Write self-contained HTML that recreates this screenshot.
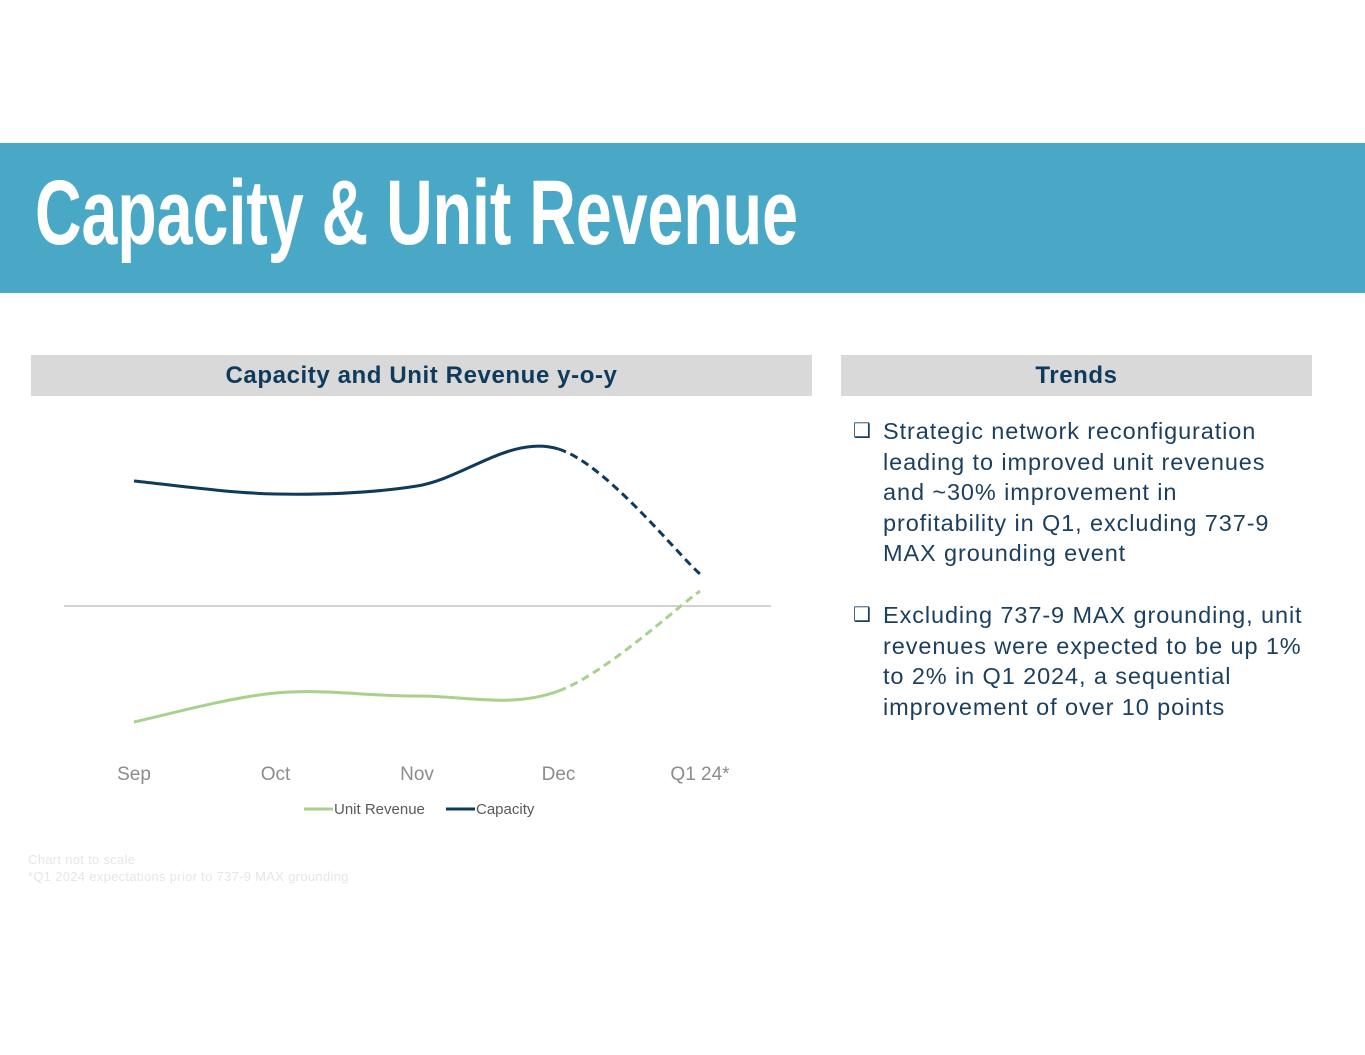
<!DOCTYPE html>
<html><head><meta charset="utf-8"><style>
body{margin:0;width:1365px;height:1055px;background:#fff;position:relative;overflow:hidden;font-family:"Liberation Sans",sans-serif}
.band{position:absolute;left:0;top:143px;width:1365px;height:150px;background:#49A8C6}
.ph{position:absolute;top:355px;height:41px;background:#D9D9D9;color:#0E3A5C;font-weight:bold;font-size:24px;letter-spacing:0.6px;line-height:41px;text-align:center}
.bul{position:absolute;left:853px;width:490px;color:#1B3F5E;font-size:23.5px;letter-spacing:0.9px;line-height:30.6px;white-space:nowrap}
.bul .b{position:absolute;left:0;top:0;font-size:20px;letter-spacing:0}
.bul .t{margin-left:30px}
.foot{position:absolute;left:28px;top:851px;color:#E6E6E6;font-size:13px;letter-spacing:0.3px;line-height:17px}
</style></head><body>
<div class="band"></div>
<svg style="position:absolute;left:0;top:143px" width="1365" height="150">
<text x="35" y="101" textLength="763" lengthAdjust="spacingAndGlyphs" font-family="Liberation Sans Narrow, Liberation Sans, sans-serif" font-weight="bold" font-size="92" fill="#fff">Capacity &amp; Unit Revenue</text></svg>
<div class="ph" style="left:31px;width:781px">Capacity and Unit Revenue y-o-y</div>
<div class="ph" style="left:841px;width:471px">Trends</div>
<div class="bul" style="top:416px"><span class="b">❑</span><div class="t">Strategic network reconfiguration<br>leading to improved unit revenues<br>and ~30% improvement in<br>profitability in Q1, excluding 737-9<br>MAX grounding event</div></div>
<div class="bul" style="top:600px"><span class="b">❑</span><div class="t">Excluding 737-9 MAX grounding, unit<br>revenues were expected to be up 1%<br>to 2% in Q1 2024, a sequential<br>improvement of over 10 points</div></div>
<div class="foot">Chart not to scale<br>*Q1 2024 expectations prior to 737-9 MAX grounding</div>
<svg id="chart" style="position:absolute;left:0;top:0" width="1365" height="1055"></svg>
<script>
const categories=["Sep","Oct","Nov","Dec","Q1 24*"];
const capacity=[12.5,11.2,12.0,15.7,3.2];
const unitRevenue=[-11.6,-8.7,-9.0,-8.5,1.5];
const svg=document.getElementById('chart');
const NS='http://www.w3.org/2000/svg';
const x=i=>134+i*141.5;
const y=v=>606-v*10;
function mk(t,a){const e=document.createElementNS(NS,t);for(const k in a)e.setAttribute(k,a[k]);svg.appendChild(e);return e;}
const zl=mk('line',{x1:64,x2:771,y1:y(0),y2:y(0),stroke:'#A6A6A6','stroke-width':1});


function seg(p,i){const p0=p[Math.max(i-1,0)],p1=p[i],p2=p[i+1],p3=p[Math.min(i+2,p.length-1)];
const c1=[p1[0]+(p2[0]-p0[0])/6,p1[1]+(p2[1]-p0[1])/6],c2=[p2[0]-(p3[0]-p1[0])/6,p2[1]-(p3[1]-p1[1])/6];
return `C${c1[0]},${c1[1]} ${c2[0]},${c2[1]} ${p2[0]},${p2[1]}`;}
function series(vals,color,name){
const p=vals.map((v,i)=>[x(i),y(v)]);
let d=`M${p[0][0]},${p[0][1]}`;for(let i=0;i<p.length-2;i++)d+=seg(p,i);
const a=mk('path',{d:d,fill:'none',stroke:color,'stroke-width':3});


const n=p.length-2;
const b=mk('path',{d:`M${p[n][0]},${p[n][1]}`+seg(p,n),fill:'none',stroke:color,'stroke-width':3,'stroke-dasharray':'8 5'});

}
series(capacity,'#0E3A5C','capacity');
series(unitRevenue,'#A9D18E','unit-revenue');
categories.forEach((c,i)=>{const t=mk('text',{x:x(i),y:780,'text-anchor':'middle','font-size':19,fill:'#8C8C8C'});t.textContent=c;

});
const lg=[['Unit Revenue','#A9D18E',304],['Capacity','#0E3A5C',446]];
lg.forEach(l=>{const ln=mk('line',{x1:l[2],x2:l[2]+29,y1:809,y2:809,stroke:l[1],'stroke-width':3});


const t=mk('text',{x:l[2]+30,y:814,'font-size':15,fill:'#595959'});t.textContent=l[0];

});
</script>
</body></html>
